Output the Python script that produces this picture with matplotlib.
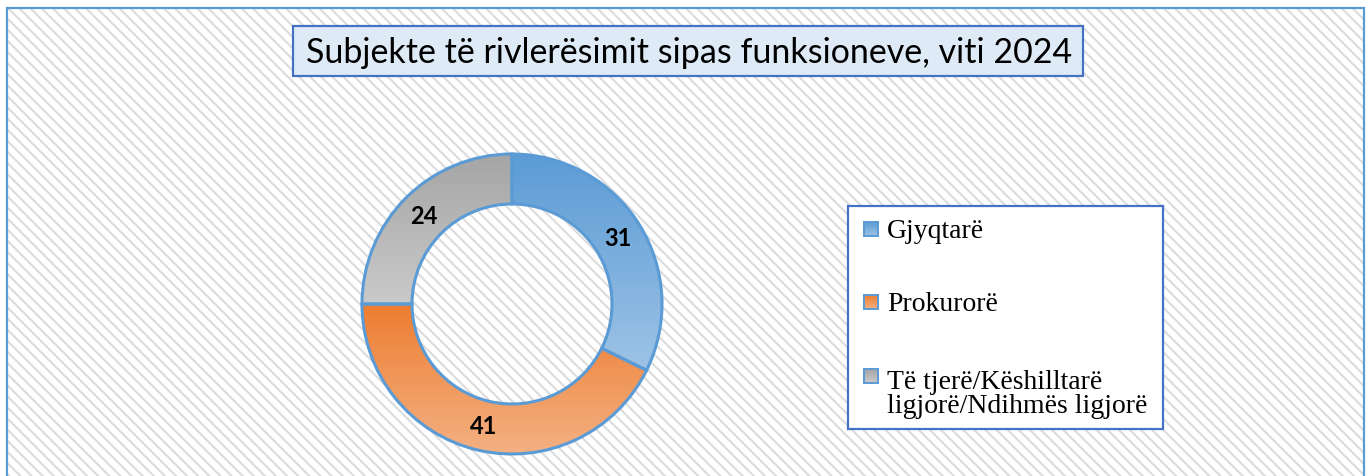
import numpy as np
import matplotlib
matplotlib.use("Agg")
import matplotlib.pyplot as plt
from matplotlib.patches import Rectangle
from matplotlib.colors import LinearSegmentedColormap

categories = ["Gjyqtarë", "Prokurorë", "Të tjerë/Këshilltarë\nligjorë/Ndihmës ligjorë"]
values = [31, 41, 24]
top_colors = ["#5B9BD5", "#ED7D31", "#A5A5A5"]
bottom_colors = ["#9DC3E6", "#F4B183", "#CACACA"]
title = "Subjekte të rivlerësimit sipas funksioneve, viti 2024"

W, H = 1368, 477
EDGE = "#5B9BD5"
plt.rcParams["hatch.linewidth"] = 1.5

fig = plt.figure(figsize=(W / 100, H / 100), dpi=100)

def fx(x): return x / W
def fy(y): return 1 - y / H

grad = np.linspace(0, 1, 256).reshape(-1, 1)

# striped background inside the frame
fig.patches.append(Rectangle((fx(7), fy(490)), fx(1364) - fx(7), fy(9) - fy(490),
                             transform=fig.transFigure, facecolor="white",
                             edgecolor="#DCDCDC", hatch="\\\\\\", lw=0, zorder=0))
fig.patches.append(Rectangle((fx(7), fy(490)), fx(1364) - fx(7), fy(9) - fy(490),
                             transform=fig.transFigure, facecolor="none",
                             edgecolor=EDGE, lw=1.6, zorder=1))

# title box
fig.patches.append(Rectangle((fx(293), fy(77)), fx(1083) - fx(293), fy(27) - fy(77),
                             transform=fig.transFigure, facecolor="#DEEBF7",
                             edgecolor="#4472C4", lw=1.6, zorder=2))
fig.text(fx(689), fy(53), title, ha="center", va="center", fontsize=24.5,
         family="Lato", color="black", zorder=3)

# donut
cx, cy, R = 512, 305, 150
pad = 165
ax = fig.add_axes([fx(cx - pad), fy(cy + pad), 2 * pad / W, 2 * pad / H])
ax.set_zorder(5)
ax.set_axis_off()
ax.patch.set_alpha(0)
tot = sum(values)
wedges, texts, autotexts = ax.pie(
    values, startangle=90, counterclock=False, radius=1,
    autopct=lambda p: f"{round(p * tot / 100)}", pctdistance=0.835,
    wedgeprops=dict(width=1 / 3, edgecolor=EDGE, linewidth=2.2),
    textprops=dict(fontsize=17, fontweight="bold", family="Lato", color="black"))
lim = pad / R
for w, c0, c1 in zip(wedges, top_colors, bottom_colors):
    ext = w.get_path().get_extents()
    cmap = LinearSegmentedColormap.from_list("g", [c1, c0])
    im = ax.imshow(grad, extent=[ext.x0, ext.x1, ext.y0, ext.y1], origin="lower",
                   cmap=cmap, aspect="auto", zorder=1)
    im.set_clip_path(w)
    w.set_facecolor("none")
    w.set_zorder(2)
for t in autotexts:
    t.set_zorder(3)
ax.set_xlim(-lim, lim)
ax.set_ylim(-lim, lim)
ax.set_aspect("equal")

# legend box
fig.patches.append(Rectangle((fx(848), fy(430)), fx(1163) - fx(848), fy(207) - fy(430),
                             transform=fig.transFigure, facecolor="white",
                             edgecolor="#4472C4", lw=1.6, zorder=2))
rows_y = [238, 311, 385]
for lab, yb, c0, c1 in zip(categories, rows_y, top_colors, bottom_colors):
    mk = fig.add_axes([fx(864), fy(yb - 1), 14 / W, 14 / H])
    mk.set_zorder(6)
    mk.imshow(grad, cmap=LinearSegmentedColormap.from_list("m", [c0, c1]),
              aspect="auto", extent=[0, 1, 0, 1], origin="upper")
    mk.set_xticks([]); mk.set_yticks([])
    for s in mk.spines.values():
        s.set_color(EDGE); s.set_linewidth(1.4)
    nl = lab.count("\n")
    fig.text(fx(887), fy(yb + 28 * nl), lab, ha="left", va="baseline", fontsize=20,
             family="Liberation Serif", color="black", linespacing=0.95, zorder=3)

fig.savefig("out.png", dpi=100)
